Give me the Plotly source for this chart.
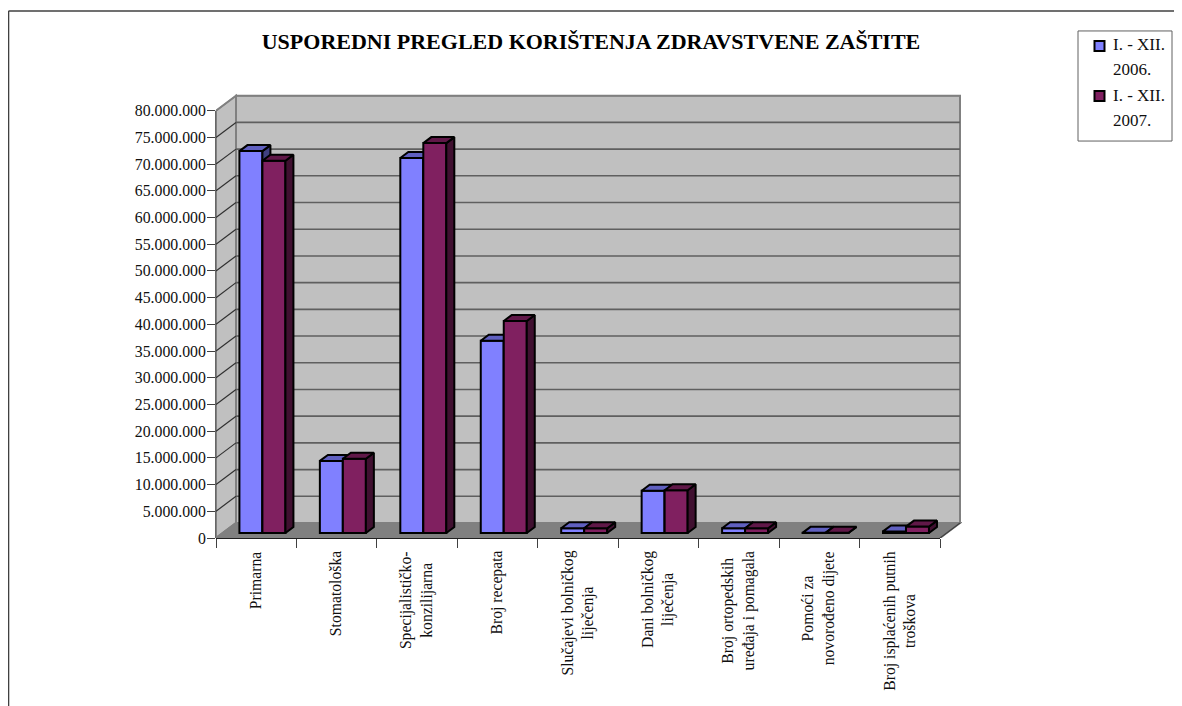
# Usporedni pregled korištenja zdravstvene zaštite - stupci u "3D" stilu
import plotly.graph_objects as go

# Podaci
kategorije = [
    'Primarna', 'Stomatološka', 'Specijalističko-<br>konzilijarna', 'Broj recepata',
    'Slučajevi bolničkog<br>liječenja', 'Dani bolničkog<br>liječenja',
    'Broj ortopedskih<br>uređaja i pomagala', 'Pomoći za<br>novorođeno dijete',
    'Broj isplaćenih putnih<br>troškova',
]
godina_2006 = [71500000, 13500000, 70200000, 36000000, 900000, 7900000, 900000, 30000, 300000]
godina_2007 = [69700000, 13900000, 73000000, 39700000, 900000, 8000000, 900000, 30000, 1200000]
tick_vrijednosti = list(range(0, 80000001, 5000000))
tick_tekst = [f'{v:,}'.replace(',', '.') for v in tick_vrijednosti]
naslov = 'USPOREDNI PREGLED KORIŠTENJA ZDRAVSTVENE ZAŠTITE'
legenda = [('I. - XII.', '2006.'), ('I. - XII.', '2007.')]

# Mjerilo u pikselima stranice (stranica ima 8 px margine tijela)
TIJELO = 8
X0, Y0 = 216, 537.7
PX_KAT = 724 / 9
PX_VAL = 427 / 80000000
SIR, VIS = 1174, 698
X_MAX = (744 + 2) / PX_KAT
Y_MAX = (442.7 + 2) / PX_VAL
dx_zid, dy_zid = 20 / PX_KAT, 15 / PX_VAL
dx_stup, dy_stup = 8 / PX_KAT, 6 / PX_VAL
pomak_x, baza = 6.2 / PX_KAT, 5 / PX_VAL
sirina = 23 / PX_KAT
x_desno = 9
BOJE_2006 = ('#8080FF', '#6060C0', '#404080')
BOJE_2007 = ('#802060', '#601848', '#401030')


def paper_x(px):
    return (px - X0) / (X_MAX * PX_KAT)


def paper_y(py):
    return (Y0 - py) / (Y_MAX * PX_VAL)


def linija(x0, y0, x1, y1, boja, debljina, xref='x', yref='y'):
    return dict(type='line', x0=x0, y0=y0, x1=x1, y1=y1, xref=xref, yref=yref, layer='below',
                line=dict(color=boja, width=debljina))


def poligon(tocke, boja):
    put = 'M' + 'L'.join(f'{x},{y}' for x, y in tocke) + 'Z'
    return dict(type='path', path=put, xref='x', yref='y', layer='below', fillcolor=boja,
                line=dict(color='#808080', width=2))


# Zidovi, pod i mreža
oblici = [
    poligon([(dx_zid, dy_zid), (x_desno + dx_zid, dy_zid), (x_desno + dx_zid, 80000000 + dy_zid), (dx_zid, 80000000 + dy_zid)], '#C0C0C0'),
    poligon([(0, 0), (dx_zid, dy_zid), (dx_zid, 80000000 + dy_zid), (0, 80000000)], '#C0C0C0'),
    poligon([(0, 0), (x_desno, 0), (x_desno + dx_zid, dy_zid), (dx_zid, dy_zid)], '#808080'),
]
for v in tick_vrijednosti[1:]:
    oblici.append(linija(dx_zid, v + dy_zid, x_desno + dx_zid, v + dy_zid, '#5F5F5F' if v < 80000000 else '#808080', 1.6))
    oblici.append(linija(0, v, dx_zid, v + dy_zid, '#303030' if v < 80000000 else '#808080', 1.2))
oblici.append(linija(0, 0, 0, 80000000, '#404040', 1.6, xref='paper'))
oblici.append(linija(0, 0, x_desno, 0, '#202020', 2, yref='paper'))
oblici.append(linija(x_desno, 0, x_desno + dx_zid, dy_zid, '#404040', 1.2))

# Okvir i legenda oko grafikona
oblici.append(linija(paper_x(8.5), paper_y(11), paper_x(1182), paper_y(11), '#404040', 1.6, 'paper', 'paper'))
oblici.append(linija(paper_x(8.5), paper_y(11), paper_x(8.5), paper_y(706), '#404040', 1.6, 'paper', 'paper'))
oblici.append(dict(type='rect', xref='paper', yref='paper', x0=paper_x(1078), x1=paper_x(1172),
                   y0=paper_y(141), y1=paper_y(31), layer='above', fillcolor='white',
                   line=dict(color='#606060', width=1)))

fig = go.Figure()


def dodaj_seriju(vrijednosti, ime, boje, pomak, osx, osy):
    prednja, gornja, bocna = boje
    sredine = [i + 0.5 + pomak_x + pomak for i in range(len(vrijednosti))]
    fig.add_trace(go.Bar(
        x=sredine, y=vrijednosti, base=baza, width=sirina, name=ime, xaxis=osx, yaxis=osy,
        marker=dict(color=prednja, line=dict(color='black', width=2)),
        showlegend=False, hoverinfo='skip',
    ))
    gore_x, gore_y, bok_x, bok_y = [], [], [], []
    for s, v in zip(sredine, vrijednosti):
        l, d, t = s - sirina / 2, s + sirina / 2, baza + v
        gore_x += [l, l + dx_stup, d + dx_stup, d, l, None]
        gore_y += [t, t + dy_stup, t + dy_stup, t, t, None]
        bok_x += [d, d + dx_stup, d + dx_stup, d, d, None]
        bok_y += [t, t + dy_stup, baza + dy_stup, baza, t, None]
    for xs, ys, boja in ((bok_x, bok_y, bocna), (gore_x, gore_y, gornja)):
        fig.add_trace(go.Scatter(
            x=xs, y=ys, mode='lines', fill='toself', fillcolor=boja, xaxis=osx, yaxis=osy,
            line=dict(color='black', width=2), showlegend=False, hoverinfo='skip',
        ))


dodaj_seriju(godina_2006, ' '.join(legenda[0]), BOJE_2006, -sirina / 2, 'x', 'y')
dodaj_seriju(godina_2007, ' '.join(legenda[1]), BOJE_2007, sirina / 2, 'x2', 'y2')

# Natpisi kategorija
natpisi = [
    dict(x=i + 0.5, y=0, xref='x', yref='y', text=t, textangle=-90, showarrow=False, yanchor='top',
         xanchor='center', yshift=-11, xshift=-1, align='center',
         font=dict(family='Liberation Serif', size=15.7, color='#101010'))
    for i, t in enumerate(kategorije)
]

# Legenda: kvadrat u boji uz prvi redak, reci su razmaknutiji nego što nudi ugrađena legenda
for n, (redak1, redak2) in enumerate(legenda):
    vrh = 45 + n * 50
    boja = (BOJE_2006, BOJE_2007)[n][0]
    oblici.append(dict(type='rect', xref='paper', yref='paper', x0=paper_x(1094.5), x1=paper_x(1104.5),
                       y0=paper_y(vrh + 6), y1=paper_y(vrh - 4), layer='above', fillcolor=boja,
                       line=dict(color='black', width=2)))
    for k, redak in enumerate((redak1, redak2)):
        natpisi.append(dict(x=paper_x(1112), y=paper_y(vrh + k * 25), xref='paper', yref='paper', text=redak,
                            showarrow=False, xanchor='left', yanchor='middle', xshift=-1,
                            font=dict(family='Liberation Serif', size=17, color='#101010')))

lijevo = X0 - TIJELO
dolje = VIS - (Y0 - TIJELO)
gore = (Y0 - TIJELO) - Y_MAX * PX_VAL
desno = SIR - lijevo - X_MAX * PX_KAT

fig.update_layout(
    width=SIR, height=VIS, autosize=False,
    margin=dict(l=lijevo, r=desno, t=gore, b=dolje, pad=0),
    paper_bgcolor='white', plot_bgcolor='white',
    font=dict(family='Liberation Serif', size=15, color='#101010'),
    title=dict(text=f'<b>{naslov}</b>', x=(591 - TIJELO) / SIR, xanchor='center', y=1 - (41 - TIJELO) / VIS,
               yanchor='middle', font=dict(size=22, color='black')),
    shapes=oblici, annotations=natpisi, showlegend=False,
    xaxis=dict(range=[0, X_MAX], showgrid=False, zeroline=False, showline=False, ticks='outside',
               ticklen=9, tickwidth=1.2, tickcolor='#404040', tickvals=list(range(10)), showticklabels=False),
    yaxis=dict(range=[0, Y_MAX], showgrid=False, zeroline=False, showline=False, ticks='outside',
               ticklen=8, tickwidth=1.2, tickcolor='#404040', tickvals=tick_vrijednosti, ticktext=tick_tekst,
               tickfont=dict(size=15.8), ticklabelstandoff=-2),
    xaxis2=dict(range=[0, X_MAX], overlaying='x', visible=False),
    yaxis2=dict(range=[0, Y_MAX], overlaying='y', visible=False),
)

fig.write_html('out.html')
